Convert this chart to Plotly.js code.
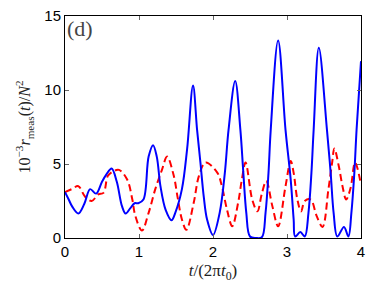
<!DOCTYPE html>
<html><head><meta charset="utf-8">
<script src="https://cdn.plot.ly/plotly-3.0.1.min.js"></script>
<style>body{margin:0;padding:0;background:#fff}#chart{width:374px;height:289px}</style>
</head><body><div id="chart"></div>
<script>
const blueT = [0,0.05,0.1,0.18,0.26,0.34,0.42,0.5,0.56,0.63,0.7,0.77,0.82,0.88,0.94,0.99,1.06,1.13,1.19,1.24,1.29,1.36,1.44,1.49,1.58,1.65,1.73,1.785,1.83,1.875,1.92,2.0,2.09,2.16,2.21,2.30,2.37,2.41,2.45,2.50,2.58,2.66,2.71,2.75,2.78,2.88,2.98,3.05,3.09,3.11,3.18,3.24,3.29,3.33,3.36,3.43,3.54,3.59,3.63,3.68,3.77,3.83,3.87,3.91,3.94,4.0];
const blueV = [3.1,2.6,2.1,1.65,2.3,3.3,3.0,3.8,4.3,4.7,3.8,2.15,1.65,2.0,2.35,2.35,2.6,5.5,6.27,5.5,3.5,1.9,1.2,1.7,3.3,6.0,10.3,7.3,5.1,2.8,1.25,0.2,1.7,4.4,7.3,10.6,7.3,4.4,1.7,0.1,0,0.05,1.7,4.4,7.3,13.35,7.3,3.95,1.25,0.1,0.4,0.1,1.7,4.4,7.3,12.85,7.3,4.4,1.7,0.1,0.75,0.1,1.7,4.4,7.3,11.95];
const redT = [0,0.09,0.18,0.27,0.36,0.45,0.52,0.58,0.65,0.73,0.84,0.91,0.95,1.04,1.13,1.22,1.31,1.38,1.47,1.52,1.58,1.64,1.74,1.81,1.90,2.06,2.12,2.19,2.26,2.34,2.39,2.44,2.53,2.60,2.66,2.72,2.80,2.88,2.98,3.05,3.09,3.14,3.19,3.24,3.32,3.40,3.48,3.56,3.61,3.64,3.70,3.75,3.80,3.86,3.92,4.0];
const redV = [3.1,3.3,3.5,2.8,2.5,2.95,3.05,4.2,4.5,4.6,3.95,2.6,1.5,0.5,1.7,3.3,4.6,5.5,4.2,2.8,1.25,0.55,2.4,4.2,5.1,4.4,3.5,1.9,0.8,2.4,3.95,5.1,2.6,1.8,3.0,3.85,2.2,0.8,3.5,5.2,4.4,2.6,1.8,2.5,2.6,1.5,0.75,3.3,5.1,6.05,4.85,3.5,2.6,3.4,5.1,3.6];
const xTicks = [0,1,2,3,4];
const yTicks = [0,5,10,15];
const panelLabel = '(d)';

const traces = [
  {x: redT, y: redV, mode:'lines', line:{color:'#ff0000', width:2, dash:'7px,4px', shape:'spline', smoothing:1}, hoverinfo:'skip'},
  {x: blueT, y: blueV, mode:'lines', line:{color:'#0000ff', width:2, shape:'spline', smoothing:1}, hoverinfo:'skip'}
];
const axisCommon = {showgrid:false, zeroline:false, showline:true, linecolor:'#000', linewidth:1, mirror:'allticks', ticks:'inside', ticklen:4, tickcolor:'#666', tickfont:{family:'Liberation Sans, Arial, sans-serif', size:15, color:'#000'}};
const layout = {
  width:374, height:289, margin:{l:65, r:13, t:16, b:51},
  paper_bgcolor:'#fff', plot_bgcolor:'#fff', showlegend:false,
  xaxis: Object.assign({}, axisCommon, {range:[0,4], tickvals:xTicks, ticktext:xTicks.map(String),
    title:{text:'<i>t</i>/(2π<i>t</i><sub>0</sub>)', font:{family:'Liberation Serif, serif', size:17, color:'#222'}, standoff:5}}),
  yaxis: Object.assign({}, axisCommon, {range:[0,15], tickvals:yTicks, ticktext:yTicks.map(String),
    title:{text:'10<sup>−3</sup><i>r</i><sub>meas</sub>(<i>t</i>)/<i>N</i><sup>2</sup>', font:{family:'Liberation Serif, serif', size:16, color:'#222'}, standoff:9}}),
  annotations:[{text:panelLabel, xref:'paper', yref:'paper', x:0, y:1.01, xanchor:'left', yanchor:'top', showarrow:false, font:{family:'Liberation Serif, serif', size:22, color:'#444'}}]
};
Plotly.newPlot('chart', traces, layout, {displayModeBar:false, staticPlot:true});
</script></body></html>
